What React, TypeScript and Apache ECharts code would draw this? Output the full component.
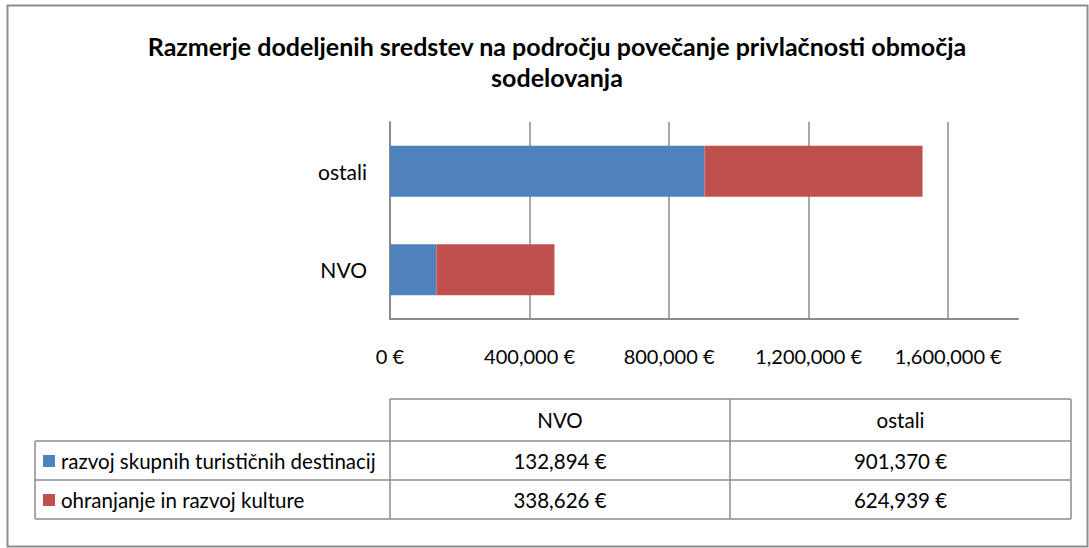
import React, { useEffect, useRef } from "react";
import * as echarts from "echarts";

const categories = ["NVO", "ostali"];
const seriesNames = ["razvoj skupnih turističnih destinacij", "ohranjanje in razvoj kulture"];
const razvojDestinacij = [132894, 901370];
const ohranjanjeKulture = [338626, 624939];
const seriesColors = ["#4F81BD", "#C0504D"];
const axisMax = 1800000;
const axisInterval = 400000;
const titleText = "Razmerje dodeljenih sredstev na področju povečanje privlačnosti območja\nsodelovanja";

const FONT = "Lato, 'Open Sans', sans-serif";
const GRAY = "#8C8C8C";

const fmt = (v: number) => v.toLocaleString("en-US") + " €";

export default function App() {
  const ref = useRef<HTMLDivElement>(null);
  useEffect(() => {
    if (!ref.current) return;
    const chart = echarts.init(ref.current, null, { renderer: "svg" });
    const values = [razvojDestinacij, ohranjanjeKulture];

    // data table geometry
    const tL = 35, tC1 = 390, tC2 = 730, tR = 1071;
    const yTop = 399, yH = 441, yR1 = 480, yB = 519;
    const lw = 1.5;
    const line = (x1: number, y1: number, x2: number, y2: number) => ({
      type: "line",
      shape: { x1, y1, x2, y2 },
      style: { stroke: GRAY, lineWidth: lw },
      silent: true,
    });
    const txt = (x: number, y: number, t: string, align: string = "center") => ({
      type: "text",
      x,
      y,
      style: { text: t, fill: "#000", font: `20.5px ${FONT}`, textAlign: align, textVerticalAlign: "middle" },
      silent: true,
    });
    const rowY = [(yH + yR1) / 2, (yR1 + yB) / 2];
    const colX = [(tC1 + tC2) / 2, (tC2 + tR) / 2];
    const graphics: any[] = [
      {
        type: "rect",
        shape: { x: 7.5, y: 5.5, width: 1080, height: 541 },
        style: { fill: "none", stroke: GRAY, lineWidth: 2 },
        silent: true,
      },
      line(tC1, yTop, tR, yTop),
      line(tL, yH, tR, yH),
      line(tL, yR1, tR, yR1),
      line(tL, yB, tR, yB),
      line(tL, yH, tL, yB),
      line(tC1, yTop, tC1, yB),
      line(tC2, yTop, tC2, yB),
      line(tR, yTop, tR, yB),
    ];
    categories.forEach((c, i) => graphics.push(txt(colX[i], (yTop + yH) / 2, c)));
    seriesNames.forEach((n, s) => {
      graphics.push({
        type: "rect",
        shape: { x: 43, y: rowY[s] - 5.5, width: 12, height: 12 },
        style: { fill: seriesColors[s] },
        silent: true,
      });
      graphics.push(txt(61, rowY[s], n, "left"));
      categories.forEach((c, i) => graphics.push(txt(colX[i], rowY[s], fmt(values[s][i]))));
    });

    chart.setOption({
      animation: false,
      backgroundColor: "#fff",
      title: {
        text: titleText,
        left: 552,
        top: 25,
        textAlign: "center",
        textStyle: { fontFamily: FONT, fontSize: 25, fontWeight: "bold", color: "#000", lineHeight: 31 },
      },
      grid: { left: 390, top: 122, width: 628, height: 197, containLabel: false },
      xAxis: {
        type: "value",
        min: 0,
        max: axisMax,
        interval: axisInterval,
        axisLine: { show: true, lineStyle: { color: GRAY, width: 2 } },
        axisTick: { show: false },
        axisLabel: {
          showMaxLabel: false,
          margin: 27,
          color: "#000",
          fontFamily: FONT,
          fontSize: 20,
          formatter: (v: number) => (v > 1600000 ? "" : fmt(v)),
        },
        splitLine: { show: true, showMaxLine: false, lineStyle: { color: GRAY, width: 1.5 } },
      },
      yAxis: {
        type: "category",
        data: categories,
        axisLine: { show: true, lineStyle: { color: GRAY, width: 2 } },
        axisTick: { show: false },
        axisLabel: { color: "#000", fontFamily: FONT, fontSize: 21, margin: 23 },
      },
      series: seriesNames.map((n, s) => ({
        name: n,
        type: "bar",
        stack: "total",
        barWidth: 51,
        data: values[s],
        itemStyle: { color: seriesColors[s] },
      })),
      graphic: graphics,
    });
    return () => chart.dispose();
  }, []);
  return <div ref={ref} style={{ width: 1089, height: 548, position: "absolute", left: 0, top: 0 }} />;
}
